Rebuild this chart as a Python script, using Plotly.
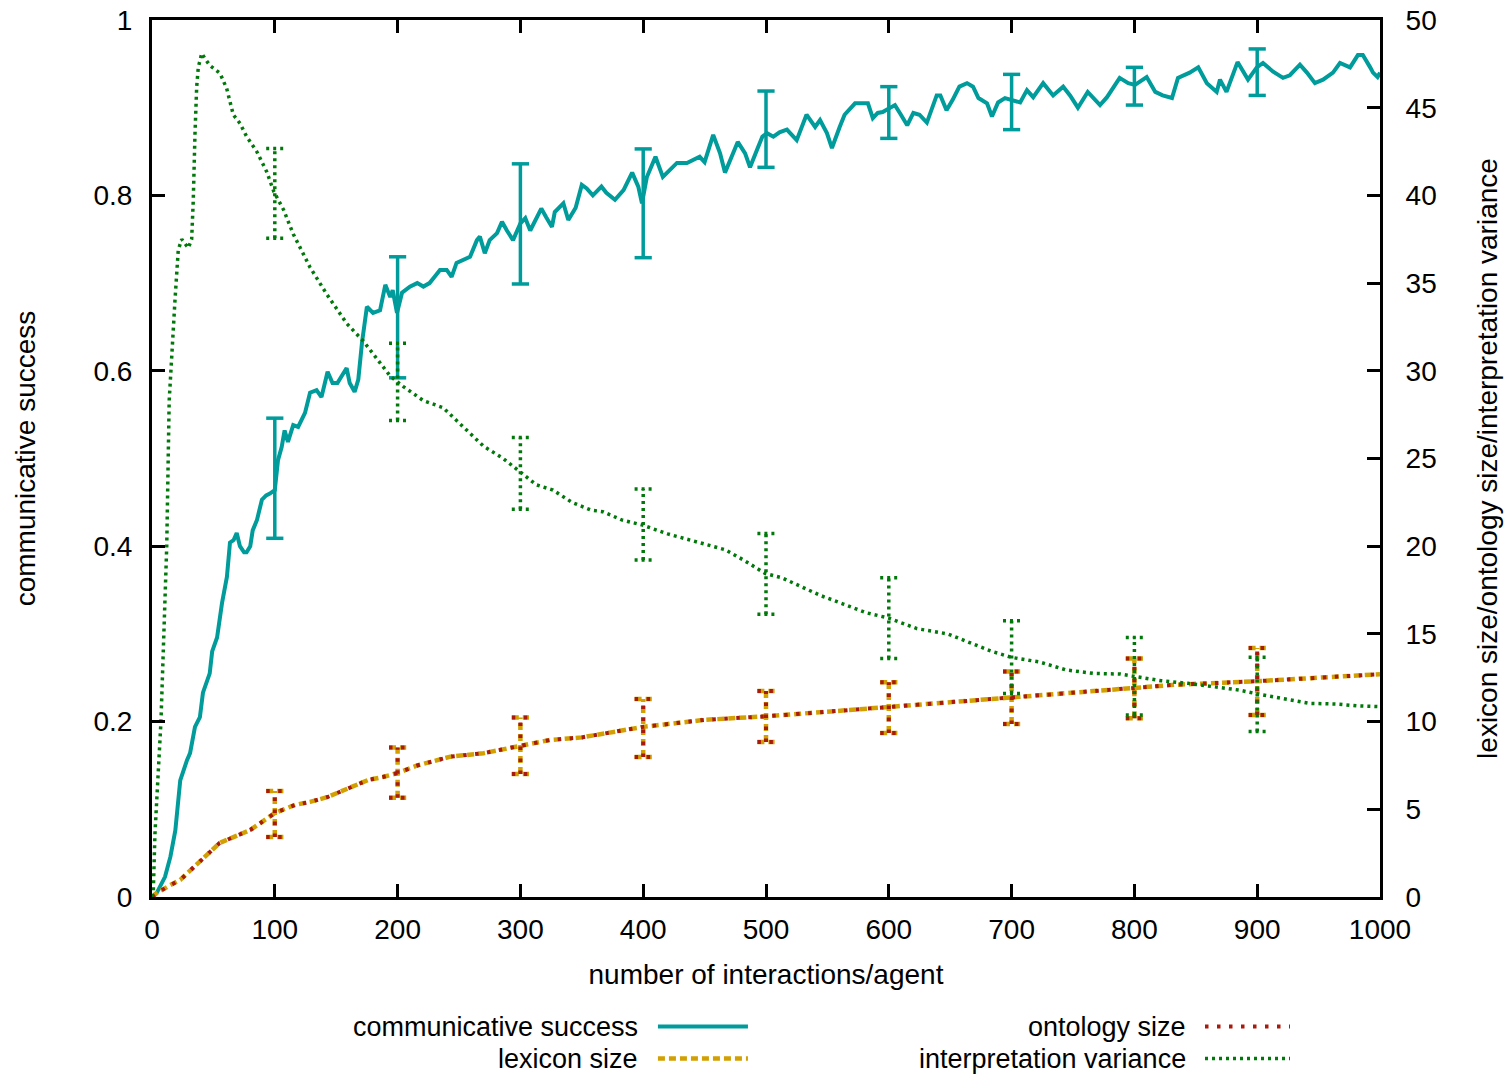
import plotly.graph_objects as go

# ---------------- data ----------------
cs_x = [0, 4, 10.6, 15, 19, 23, 28.5, 31, 35, 39, 41.5, 47, 49, 53, 57, 61, 63.5, 66.5, 69, 71.6, 75, 77, 80, 82,
        85.5, 89.5, 93, 96, 100, 102.6, 105.6, 108, 110.7, 113, 115, 119, 122, 124.6, 128.7, 134, 138, 143, 147,
        151, 154, 158.5, 161, 165, 168, 171, 175, 180, 185.7, 190, 194, 196, 199.5, 203.6, 210, 216, 221, 226,
        230, 234.5, 240, 244, 248, 253, 259, 264.6, 267, 271, 275, 281, 285, 289, 294, 300, 304, 308, 312, 317,
        321, 325.7, 328, 335, 339, 345, 350, 354, 359, 366, 370, 377, 384, 391, 396, 399, 403, 410, 416, 420,
        427.5, 435.6, 440.6, 446, 450, 457, 462.6, 466.6, 472, 477, 483, 487, 492.7, 497, 500.8, 506, 511, 517,
        525, 533, 540, 544, 549.6, 553.7, 560, 564, 572.5, 578, 583, 587, 591, 595, 601, 605, 609, 615, 620, 625,
        631, 635, 639, 642, 647, 652, 657.5, 663.7, 668.6, 673, 680, 684, 689, 694.6, 700, 707, 712.5, 717.6,
        725.7, 733.8, 742, 747.6, 754, 762, 772, 777.7, 788, 795, 800.5, 810, 817, 823, 830.6, 835.5, 845, 852,
        859, 867, 869.7, 875, 884, 892.5, 899.7, 904.7, 913, 921, 926.6, 934.8, 940.5, 947, 953.6, 961.7, 967.4,
        975.6, 982, 986, 992, 994.3, 998, 1000]
cs_y = [0, 0.005, 0.023, 0.046, 0.076, 0.133, 0.156, 0.164, 0.194, 0.205, 0.233, 0.255, 0.28, 0.296, 0.335, 0.365,
        0.404, 0.407, 0.415, 0.40, 0.393, 0.393, 0.40, 0.418, 0.43, 0.453, 0.458, 0.46, 0.464, 0.498, 0.513, 0.532,
        0.519, 0.528, 0.538, 0.536, 0.545, 0.552, 0.575, 0.578, 0.57, 0.599, 0.586, 0.586, 0.593, 0.603, 0.586,
        0.576, 0.59, 0.632, 0.673, 0.666, 0.669, 0.698, 0.684, 0.692, 0.666, 0.689, 0.696, 0.70, 0.696, 0.70,
        0.707, 0.715, 0.715, 0.707, 0.723, 0.726, 0.73, 0.749, 0.753, 0.734, 0.749, 0.757, 0.770, 0.76, 0.749,
        0.768, 0.774, 0.76, 0.772, 0.785, 0.775, 0.764, 0.781, 0.791, 0.772, 0.786, 0.812, 0.808, 0.80, 0.81,
        0.803, 0.795, 0.806, 0.826, 0.81, 0.791, 0.821, 0.844, 0.821, 0.827, 0.837, 0.837, 0.84, 0.844, 0.838,
        0.869, 0.848, 0.826, 0.844, 0.861, 0.848, 0.832, 0.852, 0.867, 0.871, 0.867, 0.872, 0.875, 0.863, 0.892,
        0.878, 0.886, 0.871, 0.854, 0.878, 0.892, 0.905, 0.905, 0.905, 0.888, 0.894, 0.895, 0.90, 0.903, 0.894,
        0.88, 0.894, 0.892, 0.883, 0.90, 0.914, 0.914, 0.897, 0.909, 0.924, 0.928, 0.924, 0.911, 0.905, 0.89,
        0.906, 0.911, 0.909, 0.906, 0.92, 0.912, 0.928, 0.914, 0.924, 0.914, 0.90, 0.918, 0.903, 0.912, 0.934,
        0.928, 0.926, 0.935, 0.918, 0.914, 0.911, 0.934, 0.94, 0.946, 0.928, 0.918, 0.932, 0.918, 0.952, 0.932,
        0.946, 0.951, 0.941, 0.934, 0.937, 0.949, 0.94, 0.928, 0.932, 0.94, 0.951, 0.946, 0.96, 0.96, 0.946,
        0.94, 0.935, 0.94]

lex_x = [0, 4, 15, 23, 29, 40.7, 49, 55, 70, 80, 88, 100, 116.5, 128.7, 143, 161, 176, 188, 200, 216, 243, 270,
         300, 324, 350, 400, 450, 500, 568, 600, 648, 700, 761, 800, 833, 899, 954, 1000]
lex_y = [0, 0.23, 0.68, 0.97, 1.37, 2.1, 2.68, 3.08, 3.53, 3.82, 4.2, 4.79, 5.25, 5.42, 5.7, 6.2, 6.67, 6.84, 7.07,
         7.5, 8.0, 8.2, 8.6, 8.95, 9.1, 9.7, 10.1, 10.3, 10.66, 10.83, 11.1, 11.35, 11.7, 11.9, 12.1, 12.3, 12.5,
         12.7]

ont_x = [0, 4, 15, 23, 29, 40.7, 49, 55, 70, 80, 88, 100, 116.5, 128.7, 143, 161, 176, 188, 200, 216, 243, 270,
         300, 324, 350, 400, 450, 500, 568, 600, 648, 700, 761, 800, 833, 899, 954, 1000]
ont_y = [0, 0.23, 0.68, 0.97, 1.37, 2.1, 2.68, 3.08, 3.53, 3.82, 4.2, 4.79, 5.25, 5.42, 5.7, 6.2, 6.67, 6.84, 7.07,
         7.5, 8.0, 8.2, 8.6, 8.95, 9.1, 9.7, 10.1, 10.3, 10.66, 10.83, 11.1, 11.35, 11.7, 11.9, 12.1, 12.3, 12.5,
         12.7]

var_x = [0, 1, 2.4, 4.9, 7.3, 12, 14, 18.7, 21.4, 24.2, 29.6, 32.3, 33.6, 35, 36.4, 37.7, 40.5, 43.2, 47.2, 55.4,
         60.8, 66.2, 71.7, 77.1, 85.3, 93.4, 99.3, 107, 115, 128.7, 142, 158.5, 172, 183, 194, 204.7, 221, 237,
         253.5, 270, 286, 300, 313, 326.5, 342, 357.5, 367, 382.5, 399.6, 420, 444.8, 466.7, 482, 499.2, 513, 544,
         563, 582, 600, 623, 648, 665, 684, 700, 722.6, 744.6, 766.6, 788.7, 800.5, 821.7, 843.7, 865.8, 885,
         900.7, 920.8, 942.8, 964.8, 981.3, 1000]
var_y = [0, 0.2, 3.6, 7.4, 10.0, 20.0, 28.3, 34.0, 36.9, 37.5, 37.0, 37.5, 39.7, 43.5, 46.2, 47.3, 48.1, 47.8, 47.4,
         46.96, 46.1, 44.6, 44.1, 43.35, 42.5, 41.35, 40.2, 39.2, 37.8, 35.9, 34.4, 32.7, 31.7, 30.7, 29.7, 29.1,
         28.3, 27.9, 26.8, 25.7, 25.0, 24.2, 23.5, 23.2, 22.5, 22.06, 21.97, 21.5, 21.2, 20.7, 20.2, 19.8, 19.2,
         18.45, 18.2, 17.2, 16.7, 16.2, 15.9, 15.3, 15.0, 14.55, 14.0, 13.66, 13.4, 12.94, 12.75, 12.71, 12.56,
         12.33, 12.18, 11.99, 11.8, 11.57, 11.33, 11.04, 11.0, 10.9, 10.85]

# error bars (low / high) at every 100 interactions
err_x = [100, 200, 300, 400, 500, 600, 700, 800, 900]
cs_lo = [0.409, 0.592, 0.699, 0.729, 0.832, 0.865, 0.875, 0.903, 0.914]
cs_hi = [0.546, 0.730, 0.836, 0.853, 0.919, 0.924, 0.938, 0.946, 0.967]
lex_lo = [3.42, 5.66, 7.01, 7.98, 8.84, 9.35, 9.86, 10.19, 10.38]
lex_hi = [6.04, 8.53, 10.24, 11.29, 11.74, 12.24, 12.85, 13.60, 14.20]
ont_lo = [3.42, 5.66, 7.01, 7.98, 8.84, 9.35, 9.86, 10.19, 10.38]
ont_hi = [6.04, 8.53, 10.24, 11.29, 11.74, 12.24, 12.85, 13.60, 14.20]
var_lo = [37.55, 27.16, 22.1, 19.21, 16.12, 13.6, 11.6, 10.38, 9.43]
var_hi = [42.68, 31.57, 26.2, 23.26, 20.73, 18.2, 15.75, 14.8, 13.67]

x_ticks = [0, 100, 200, 300, 400, 500, 600, 700, 800, 900, 1000]

# ---------------- styles ----------------
C_CS = "#009b9b"
C_LEX = "#d2a000"
C_ONT = "#a81a0c"
C_VAR = "#00780a"
FONT = "Liberation Sans, Arial, Helvetica, sans-serif"
FS = 28
FS_KEY = 27
CAP = 7  # half-width of error-bar caps, in x units

LN_CS = dict(color=C_CS, width=4)
LN_LEX = dict(color=C_LEX, width=4.5, dash="7px,4px")
LN_ONT = dict(color=C_ONT, width=4, dash="3.5px,8.5px")
LN_VAR = dict(color=C_VAR, width=3.5, dash="3px,4px")


def bars(xs, lo, hi):
    bx, by = [], []
    for x, l, h in zip(xs, lo, hi):
        bx += [x, x, None, x - CAP, x + CAP, None, x - CAP, x + CAP, None]
        by += [l, h, None, l, l, None, h, h, None]
    return bx, by


fig = go.Figure()

# communicative success
fig.add_trace(go.Scatter(x=cs_x, y=cs_y, mode="lines", line=LN_CS, showlegend=False, yaxis="y"))
bx, by = bars(err_x, cs_lo, cs_hi)
fig.add_trace(go.Scatter(x=bx, y=by, mode="lines", line=dict(color=C_CS, width=3.5),
                         showlegend=False, yaxis="y"))

# lexicon size
fig.add_trace(go.Scatter(x=lex_x, y=lex_y, mode="lines", line=LN_LEX, showlegend=False, yaxis="y2"))
bx, by = bars(err_x, lex_lo, lex_hi)
fig.add_trace(go.Scatter(x=bx, y=by, mode="lines", line=LN_LEX, showlegend=False, yaxis="y2"))

# ontology size
fig.add_trace(go.Scatter(x=ont_x, y=ont_y, mode="lines", line=LN_ONT, showlegend=False, yaxis="y2"))
bx, by = bars(err_x, ont_lo, ont_hi)
fig.add_trace(go.Scatter(x=bx, y=by, mode="lines", line=LN_ONT, showlegend=False, yaxis="y2"))

# interpretation variance
fig.add_trace(go.Scatter(x=var_x, y=var_y, mode="lines", line=LN_VAR, showlegend=False, yaxis="y2"))
bx, by = bars(err_x, var_lo, var_hi)
fig.add_trace(go.Scatter(x=bx, y=by, mode="lines", line=LN_VAR, showlegend=False, yaxis="y2"))

axis_common = dict(showgrid=False, zeroline=False, showline=True, linecolor="black", linewidth=3,
                   ticks="inside", ticklen=13, tickwidth=3, tickcolor="black",
                   ticklabeloverflow="allow",
                   tickfont=dict(family=FONT, size=FS, color="black"))

fig.update_layout(
    template="none",
    width=1508, height=1075, autosize=False,
    margin=dict(l=152, r=128, t=20, b=178, pad=0),
    paper_bgcolor="white", plot_bgcolor="white",
    font=dict(family=FONT, size=FS, color="black"),
    xaxis=dict(range=[0, 1000], tickvals=x_ticks, mirror="ticks", automargin=False,
               ticklabelstandoff=5,
               title=dict(text="number of interactions/agent", standoff=21,
                          font=dict(family=FONT, size=FS, color="black")),
               **axis_common),
    yaxis=dict(range=[0, 1], tickmode="linear", tick0=0, dtick=0.2, automargin=False,
               ticklabelstandoff=11,
               title=dict(text="communicative success", standoff=50,
                          font=dict(family=FONT, size=FS, color="black")),
               **axis_common),
    yaxis2=dict(range=[0, 50], tickmode="linear", tick0=0, dtick=5, overlaying="y", side="right",
                automargin=False, ticklabelstandoff=17,
                title=dict(text="lexicon size/ontology size/interpretation variance", standoff=42,
                           font=dict(family=FONT, size=FS, color="black")),
                **axis_common),
)

# ---------------- legend (gnuplot-style key: label then sample) ----------------
ROW1, ROW2 = -0.1477, -0.1842
legend_items = [
    ("communicative success", LN_CS, 0.3974, 0.412, 0.4853, ROW1),
    ("lexicon size", LN_LEX, 0.3974, 0.412, 0.4853, ROW2),
    ("ontology size", LN_ONT, 0.8436, 0.8575, 0.9267, ROW1),
    ("interpretation variance", LN_VAR, 0.8436, 0.8575, 0.9267, ROW2),
]
for label, ln, tx, x0, x1, yy in legend_items:
    fig.add_annotation(text=label, xref="paper", yref="paper", x=tx, y=yy, xanchor="right", yanchor="middle",
                       showarrow=False, font=dict(family=FONT, size=FS_KEY, color="black"))
    fig.add_shape(type="line", xref="paper", yref="paper", x0=x0, x1=x1, y0=yy, y1=yy, line=ln)

# let the 1508x1075 figure fill the page exactly (no default body margin), no mode bar
fig.write_html("out.html", config={"displayModeBar": False},
               post_script="document.body.style.margin='0';")
